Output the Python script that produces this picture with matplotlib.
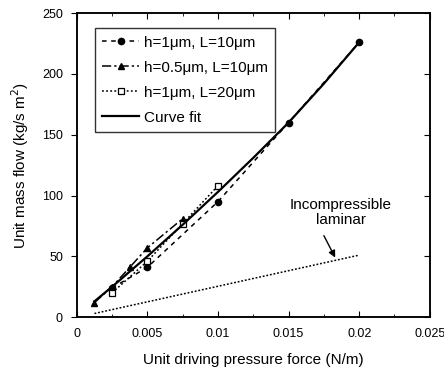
import matplotlib
matplotlib.use('Agg')
import matplotlib.pyplot as plt
from matplotlib.ticker import MultipleLocator

plt.rcParams['font.family'] = ['Liberation Sans', 'DejaVu Sans']

# h=1um, L=10um
x1 = [0.0025, 0.005, 0.01, 0.015, 0.02]
y1 = [24, 41, 95, 160, 226]

# h=0.5um, L=10um
x2 = [0.00125, 0.0025, 0.00375, 0.005, 0.0075]
y2 = [12, 25, 41, 57, 81]

# h=1um, L=20um
x3 = [0.0025, 0.005, 0.0075, 0.01]
y3 = [20, 46, 77, 108]

# curve fit
xf = [0.00125, 0.0025, 0.005, 0.0075, 0.01, 0.0125, 0.015, 0.0175, 0.02]
yf = [13, 25, 50, 76, 103, 131, 160, 192, 226]

# incompressible laminar
xl = [0.00125, 0.02]
yl = [3, 51]

fig = plt.figure(figsize=(4.44, 3.74), dpi=100)
ax = fig.add_axes([0.173, 0.152, 0.795, 0.813])

ax.plot(x1, y1, linestyle=(0, (3, 3)), color='black', lw=1.1, marker='o',
        ms=4.5, label='h=1\u03bcm, L=10\u03bcm')
ax.plot(x2, y2, linestyle=(0, (6, 2, 1.5, 2)), color='black', lw=1.1, marker='^',
        ms=5, label='h=0.5\u03bcm, L=10\u03bcm')
ax.plot(x3, y3, linestyle=(0, (1.2, 1.5)), color='black', lw=1.1, marker='s',
        ms=5, mfc='white', mew=0.9, label='h=1\u03bcm, L=20\u03bcm')
ax.plot(xf, yf, color='black', lw=1.6, label='Curve fit')
ax.plot(xl, yl, linestyle=(0, (1.2, 1.2)), color='black', lw=1.1)

ax.text(0.0187, 86, 'Incompressible\nlaminar', ha='center', va='center',
        fontsize=11, linespacing=1.15)
ax.annotate('', xy=(0.0183, 49), xytext=(0.0175, 67),
            arrowprops=dict(arrowstyle='-|>', color='black', lw=1.0,
                            shrinkA=0, shrinkB=0, mutation_scale=10))

ax.set_xlim(0, 0.025)
ax.set_ylim(0, 250)
ax.set_xticks([0, 0.005, 0.01, 0.015, 0.02, 0.025])
ax.set_xticklabels(['0', '0.005', '0.01', '0.015', '0.02', '0.025'])
ax.set_yticks([0, 50, 100, 150, 200, 250])
ax.xaxis.set_minor_locator(MultipleLocator(0.0025))
ax.tick_params(axis='x', which='both', direction='in', top=True, labelsize=9, pad=8)
ax.tick_params(axis='x', which='major', length=4)
ax.tick_params(axis='x', which='minor', length=2)
ax.tick_params(axis='y', which='major', direction='out', length=4, labelsize=9, pad=6)

ax2 = ax.twinx()
ax2.set_ylim(0, 250)
ax2.set_yticks([0, 50, 100, 150, 200, 250])
ax2.tick_params(axis='y', direction='in', length=4, labelright=False)

for a in (ax, ax2):
    for s in a.spines.values():
        s.set_linewidth(1.1)

ax.set_xlabel('Unit driving pressure force (N/m)', fontsize=11, labelpad=9)
ax.set_ylabel('Unit mass flow (kg/s m$^2$)', fontsize=11, labelpad=8)

leg = ax.legend(loc='upper left', bbox_to_anchor=(0.051, 0.951), fontsize=11,
                handlelength=2.4, frameon=True, fancybox=False,
                edgecolor='black', borderpad=0.5, labelspacing=0.72,
                handletextpad=0.3, borderaxespad=0)
leg.get_frame().set_linewidth(1.0)

fig.savefig('out.png', dpi=100)
